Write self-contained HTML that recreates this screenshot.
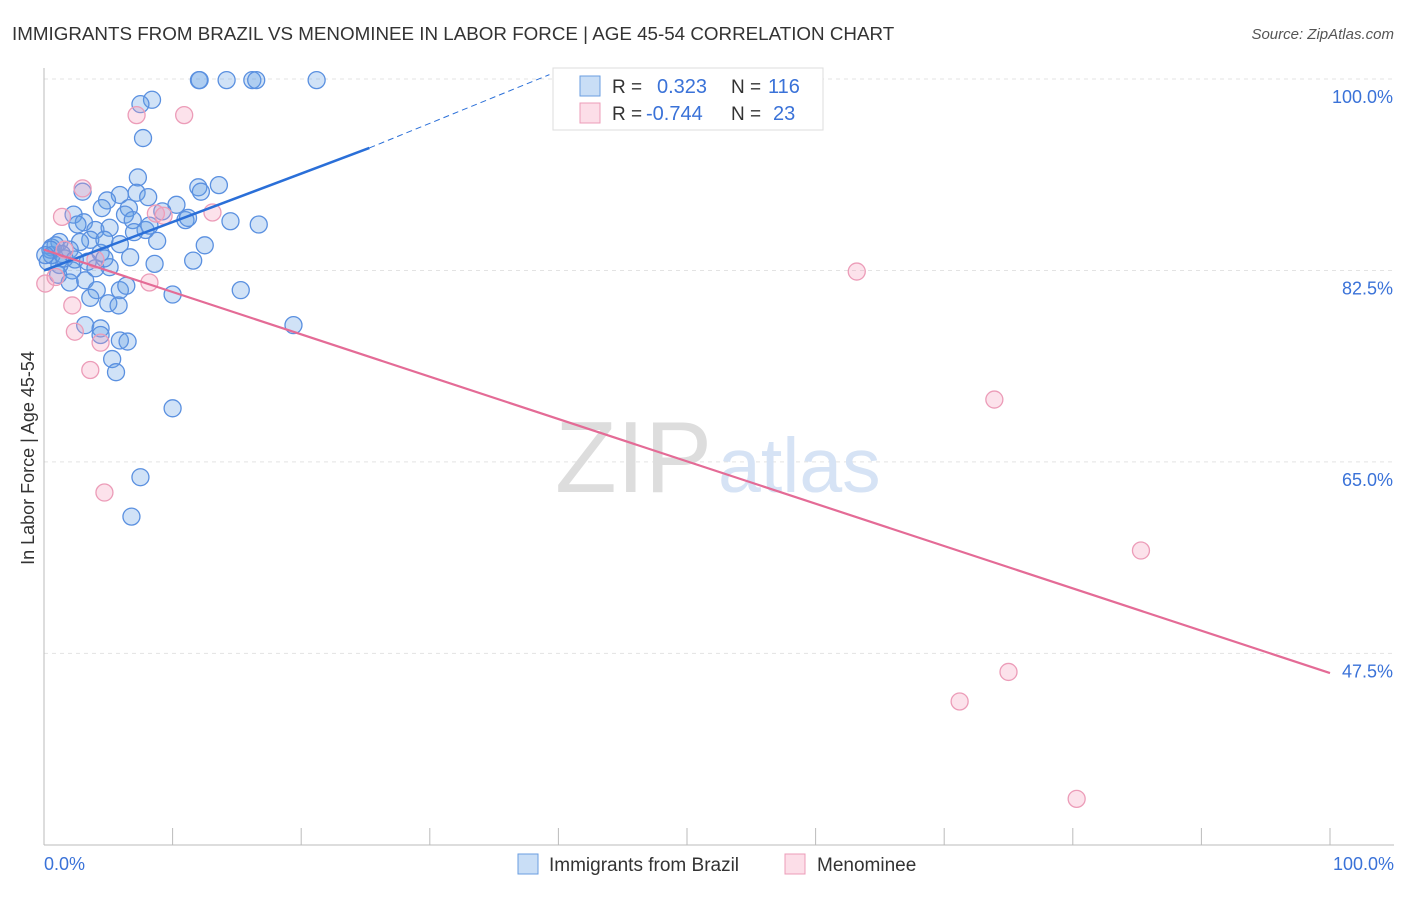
<!DOCTYPE html>
<html><head><meta charset="utf-8"><style>
body{margin:0;background:#fff;font-family:"Liberation Sans",sans-serif;}
svg text{font-family:"Liberation Sans",sans-serif;}
</style></head><body>
<svg id="chart" width="1406" height="892">
<text x="12" y="40" font-size="18.8" fill="#333">IMMIGRANTS FROM BRAZIL VS MENOMINEE IN LABOR FORCE | AGE 45-54 CORRELATION CHART</text>
<text x="1394" y="39" font-size="15" fill="#555" font-style="italic" text-anchor="end">Source: ZipAtlas.com</text>
<text x="0" y="0" transform="translate(34,458) rotate(-90)" font-size="18" fill="#333" text-anchor="middle">In Labor Force | Age 45-54</text>
<g id="grid"></g>
<text x="555" y="492" font-size="101" fill="#ddd" font-family="Liberation Serif">ZIP</text>
<text x="718" y="492" font-size="77" fill="#d6e3f5">atlas</text>
<g id="marks"></g>
<g>
<rect x="553" y="68" width="270" height="62" fill="#fff" stroke="#ddd"/>
<rect x="580" y="76" width="20" height="20" fill="rgba(100,160,230,0.35)" stroke="#6a9ee0"/>
<rect x="580" y="103" width="20" height="20" fill="rgba(245,160,190,0.35)" stroke="#ec9cb8"/>
<text x="612" y="93" font-size="19" fill="#333">R = </text><text x="657" y="93" font-size="20" fill="#3a72d8">0.323</text>
<text x="731" y="93" font-size="19" fill="#333">N = </text><text x="768" y="93" font-size="20" fill="#3a72d8">116</text>
<text x="612" y="120" font-size="19" fill="#333">R = </text><text x="646" y="120" font-size="20" fill="#3a72d8">-0.744</text>
<text x="731" y="120" font-size="19" fill="#333">N = </text><text x="773" y="120" font-size="20" fill="#3a72d8">23</text>
</g>
<g>
<rect x="518" y="854" width="20" height="20" fill="rgba(100,160,230,0.35)" stroke="#6a9ee0"/>
<text x="549" y="871" font-size="19" fill="#333">Immigrants from Brazil</text>
<rect x="785" y="854" width="20" height="20" fill="rgba(245,160,190,0.35)" stroke="#ec9cb8"/>
<text x="817" y="871" font-size="19" fill="#333">Menominee</text>
</g>
</svg>
<script>
const yTicks=[100,82.5,65,47.5];
const yTickLabels=["100.0%","82.5%","65.0%","47.5%"];
const xTickLabels=["0.0%","100.0%"];
const blueX=[12.05,14.2,16.2,16.5,21.2,12.1,8.4,7.5,7.7,7.3,7.2,5.9,8.1,3.0,12.0,13.6,12.2,4.9,10.3,9.2,6.6,6.3,14.5,16.7,11.0,11.2,6.9,7.9,4.5,2.3,3.1,4.0,5.1,3.6,2.8,1.2,0.6,2.0,4.4,5.9,8.8,12.5,11.6,8.6,6.7,5.1,4.0,2.2,1.2,0.3,0.6,1.6,3.2,4.1,5.9,5.0,5.8,6.4,10.0,15.3,19.4,3.2,4.4,4.4,5.9,6.5,5.3,5.6,10.0,7.5,6.8,0.9,0.5,1.4,2.4,3.4,4.7,0.1,1.1,2.0,3.6,7.0,8.2,4.7,2.6];
const blueY=[99.9,99.9,99.9,99.9,99.9,99.9,98.1,97.7,94.6,91.0,89.6,89.4,89.2,89.7,90.1,90.3,89.7,88.9,88.5,87.9,88.2,87.6,87.0,86.7,87.1,87.3,87.1,86.2,88.2,87.6,86.9,86.2,86.4,85.3,85.1,85.1,84.6,84.4,84.1,84.9,85.2,84.8,83.4,83.1,83.7,82.8,82.7,82.5,83.0,83.3,83.9,83.6,81.6,80.7,80.7,79.5,79.3,81.1,80.3,80.7,77.5,77.5,77.2,76.6,76.1,76.0,74.4,73.2,69.9,63.6,60.0,84.8,84.4,84.0,83.5,83.3,83.6,83.9,82.1,81.4,80.0,86.0,86.6,85.3,86.7];
const pinkX=[7.2,10.9,3.0,1.4,8.7,9.3,13.1,0.1,0.9,2.2,2.4,4.4,3.6,8.2,4.7,63.2,73.9,85.3,75.0,71.2,80.3,4.0,1.6];
const pinkY=[96.7,96.7,90.0,87.4,87.7,87.5,87.8,81.3,81.9,79.3,76.9,75.9,73.4,81.4,62.2,82.4,70.7,56.9,45.8,43.1,34.2,83.5,84.4];
const blueTrend=[[0,82.5],[25.3,93.7],[39.3,100.4]];
const pinkTrend=[[0,84.4],[100,45.7]];
const NS="http://www.w3.org/2000/svg";
const sx=v=>44+v*12.86, sy=v=>79+(100-v)*10.94;
function mk(t,a,p){const e=document.createElementNS(NS,t);for(const k in a)e.setAttribute(k,a[k]);p.appendChild(e);return e;}
const grid=document.getElementById('grid'), marks=document.getElementById('marks');
yTicks.forEach((t,i)=>{
 const l=mk('line',{x1:44,x2:1394,y1:sy(t),y2:sy(t),stroke:'#e3e3e3','stroke-dasharray':'4,4'},grid);
 
 
 const tx=mk('text',{x:1393,y:sy(t)+24,'font-size':18,fill:'#3a72d8','text-anchor':'end'},grid);
 tx.textContent=yTickLabels[i];
 
 
});
const ax=mk('line',{x1:44,x2:44,y1:68,y2:845,stroke:'#bbb'},grid);


const bx=mk('line',{x1:44,x2:1394,y1:845,y2:845,stroke:'#bbb'},grid);


for(let i=0;i<=10;i++){
 const tk=mk('line',{x1:sx(i*10),x2:sx(i*10),y1:828,y2:845,stroke:'#bbb'},grid);
 
 
}
[[0,'start'],[100,'end']].forEach((d,i)=>{
 const tx=mk('text',{x:i?1394:44,y:870,'font-size':18,fill:'#3a72d8','text-anchor':d[1]},grid);
 tx.textContent=xTickLabels[i];
 
 
});
blueX.forEach((x,i)=>{
 const c=mk('circle',{cx:sx(x),cy:sy(blueY[i]),r:8.5,fill:'rgba(100,160,230,0.3)',stroke:'#5a90e0','stroke-width':1.3},marks);
 
 
});
pinkX.forEach((x,i)=>{
 const c=mk('circle',{cx:sx(x),cy:sy(pinkY[i]),r:8.5,fill:'rgba(245,160,190,0.3)',stroke:'#ec9cb8','stroke-width':1.3},marks);
 
 
});
const b1=mk('line',{x1:sx(blueTrend[0][0]),y1:sy(blueTrend[0][1]),x2:sx(blueTrend[1][0]),y2:sy(blueTrend[1][1]),stroke:'#2a6fd8','stroke-width':2.5},marks);


const b2=mk('line',{x1:sx(blueTrend[1][0]),y1:sy(blueTrend[1][1]),x2:sx(blueTrend[2][0]),y2:sy(blueTrend[2][1]),stroke:'#2a6fd8','stroke-width':1,'stroke-dasharray':'6,4'},marks);


const p1=mk('line',{x1:sx(pinkTrend[0][0]),y1:sy(pinkTrend[0][1]),x2:sx(pinkTrend[1][0]),y2:sy(pinkTrend[1][1]),stroke:'#e46b96','stroke-width':2.2},marks);


</script>
</body></html>
